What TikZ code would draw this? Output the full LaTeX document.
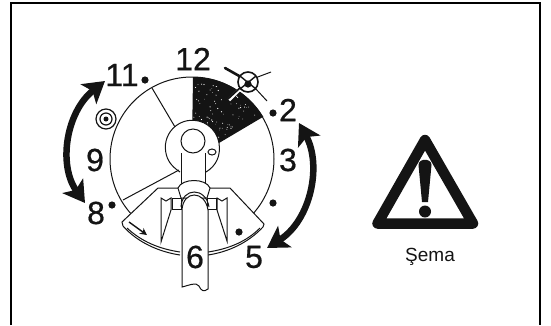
\documentclass[tikz,border=0pt]{standalone}
\usepackage{fontspec}
\setmainfont{Liberation Sans}
\newfontfamily\numfont[FakeBold=0.6]{Liberation Sans}
\usetikzlibrary{arrows.meta,calc,positioning}
\definecolor{InkBlack}{RGB}{20,20,20}
\tikzset{
  clocknum/.style={font=\numfont\fontsize{32}{32}\selectfont,text=InkBlack,inner sep=0pt},
  thinline/.style={InkBlack,line width=1pt},
  bigarrow/.style={InkBlack,line width=6.5pt,{Stealth[length=21pt,width=25pt,inset=5pt]}-{Stealth[length=21pt,width=25pt,inset=5pt]}},
}
\newcommand{\clockdot}[2]{%
  \fill[InkBlack] (#1,#2) circle (3.6);}

\begin{document}
\begin{tikzpicture}[x=1pt,y=-1pt]
  \useasboundingbox (0,0) rectangle (551,325);
  % frame, open at the bottom
  \draw[black,line width=2pt] (11,325)--(11,3)--(540,3)--(540,325);

  % disc with the dark sector
  \draw[thinline] (192,159) circle (82);
  \fill[InkBlack] (193,77) arc (-90:-31:82) -- (219,143)
    arc (-9:-90:27) -- cycle;
  \pgfmathsetseed{12}
  \foreach \i in {1,...,80}{
    \pgfmathsetmacro{\ang}{-88+rnd*54}
    \pgfmathsetmacro{\rad}{32+rnd*46}
    \fill[white] ($(192,159)+(\ang:\rad)$) circle (0.25+0.4*rnd);
  }
  \draw[thinline] (152,88)--(175,127);
  \draw[thinline] (123,200)--(179,170);

  % hub and shaft
  \draw[thinline] (219,143) arc (-9:-190:27)
    .. controls (167,160) and (171,166) .. (180,172);
  \draw[thinline] (219,143) .. controls (221,156) and (216,166) .. (206,172);
  \draw[thinline] (193,141) circle (12);
  \draw[thinline] (212,152) ellipse (4 and 3);
  \draw[thinline] (181,153)--(181,186);
  \draw[thinline] (205,153)--(205,186);

  % guard
  \draw[thinline,fill=white] (180,255) .. controls (160,252) and (138,243) .. (123,226)
    -- (122,222) -- (158,188) -- (230,188) -- (264,224) -- (263,227)
    .. controls (248,243) and (228,252) .. (208,255);
  \draw[thinline] (127,228) .. controls (142,242) and (160,249) .. (180,252);
  \draw[thinline] (260,228) .. controls (246,242) and (228,249) .. (208,252);
  \draw[thinline,fill=white] (161,198) -- (161,242) -- (171,210) -- (171,198)
    -- (166,201) -- cycle;
  \draw[thinline,fill=white] (227,198) -- (227,241) -- (217,210) -- (217,198)
    -- (222,201) -- cycle;
  \draw[thinline,fill=white] (172,198) rectangle (181,209);
  \draw[thinline,fill=white] (207,198) rectangle (216,209);
  \draw[thinline,fill=white] (178,188) .. controls (182,178) and (206,178) .. (210,188)
    -- (207,198) -- (181,198) -- cycle;
  % lower part of the shaft runs through the clamp
  \draw[thinline,fill=white] (182,210) .. controls (183,190) and (205,190) .. (208,210)
    -- (208,289) .. controls (204,292) and (201,291) .. (199,286)
    .. controls (196,282) and (190,285) .. (182,287) -- cycle;
  \draw[thinline] (181,207) .. controls (182,187) and (206,187) .. (209,207);
  \draw[-{Stealth[length=7pt,width=7pt]},InkBlack,line width=1.4pt] (129,222)--(147,235);
  \clockdot{239}{232}

  % screw symbols
  \draw[InkBlack,line width=1.2pt] (106,119) circle (10);
  \draw[InkBlack,line width=1.2pt] (106,119) circle (6);
  \fill[InkBlack] (106,119) circle (2.5);
  \draw[InkBlack,line width=2.6pt,line cap=round] (225,68)--(241,77);
  \draw[thinline] (255,78)--(271,72);
  \draw[thinline] (255,88)--(267,101);
  \draw[white,line width=3.4pt] (229,100)--(241,88);
  \draw[thinline,line width=1.6pt,line cap=round] (228,99)--(241,87);
  \draw[InkBlack,line width=1.6pt,fill=white] (248,82) circle (10);
  \fill[InkBlack] (248,84) circle (3.6);
  \draw[InkBlack,line width=1.4pt] (240,89)--(256,76);
  \draw[InkBlack,line width=1.4pt] (240,76)--(256,89);

  % hour marks
  \clockdot{145}{80}
  \clockdot{273}{113}
  \clockdot{112}{205}
  \clockdot{273}{203}
  \node[clocknum] (num12) at (193,59) {12};
  \node[clocknum] (num11) at (122,75) {11};
  \node[clocknum] (num2) at (288,110) {2};
  \node[clocknum] (num3) at (288,160) {3};
  \node[clocknum] (num9) at (95,160) {9};
  \node[clocknum] (num8) at (96,213) {8};
  \node[clocknum] (num6) at (195,257) {6};
  \node[clocknum] (num5) at (254,257) {5};

  % turning ranges
  \draw[bigarrow] (105,81) .. controls (66,112) and (58,165) .. (85,203);
  \draw[bigarrow] (299,123) .. controls (322,165) and (311,220) .. (267,248);

  % warning sign
  \draw[InkBlack,line width=10.5pt,line join=round] (425,140)--(473,223.5)--(377.5,223.5)--cycle;
  \fill[InkBlack] (418.5,165) .. controls (418.5,158) and (431.5,158) .. (431.5,165)
    -- (428,202) -- (422,202) -- cycle;
  \fill[InkBlack] (425,211.5) circle (6);
  \node[font=\fontsize{19}{20}\selectfont,text=InkBlack,inner sep=0pt] (schema) at (430,257) {Şema};
\end{tikzpicture}
\end{document}
